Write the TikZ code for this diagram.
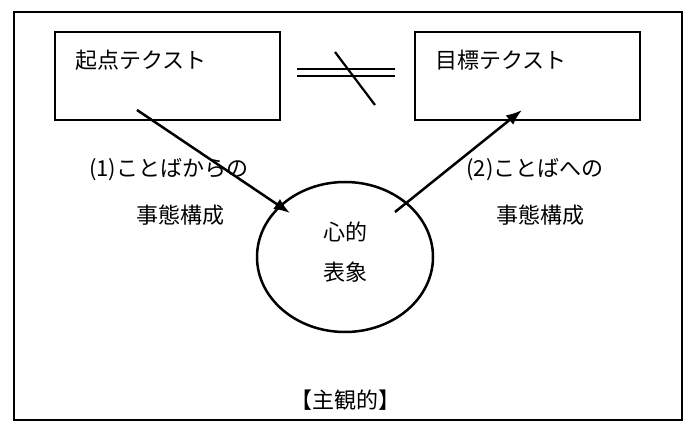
\documentclass[tikz,border=0pt]{standalone}
\usepackage{fontspec}
\usetikzlibrary{shapes.geometric,arrows.meta}
\newfontfamily\cjk{Noto Sans CJK JP}
\tikzset{lbl/.style={font=\cjk\fontsize{22}{24}\selectfont, inner sep=0pt}, bx/.style={draw, line width=2.2pt}, arr/.style={-{Latex[length=16pt,width=12pt]}, line width=2.5pt}}
\begin{document}
\begin{tikzpicture}[x=1pt,y=-1pt]
\useasboundingbox (0,0) rectangle (696,427);
\draw[line width=2pt] (14,12) rectangle (682,420);
\node[bx, minimum width=225pt, minimum height=88pt] (src) at (167.5,76) {};
\node[bx, minimum width=225pt, minimum height=88pt] (tgt) at (527.5,76) {};
\node[lbl, anchor=west] at (75,60) {起点テクスト};
\node[lbl, anchor=west] at (435,60) {目標テクスト};
\draw[line width=2.2pt] (297,69) -- (395,69) (297,76) -- (395,76);
\draw[line width=2.2pt] (335,52) -- (375,105);
\node[draw, line width=2.5pt, ellipse, minimum width=176pt, minimum height=150pt] (rep) at (345,257) {};
\node[lbl] at (345,232) {心的};
\node[lbl] at (345,272) {表象};
\coordinate (a1) at (137,110); \coordinate (a2) at (290,213);
\coordinate (b1) at (395,212); \coordinate (b2) at (522,110);
\draw[arr] (a1) -- (a2);
\draw[arr] (b1) -- (b2);
\node[lbl] at (169,170) {(1)ことばからの};
\node[lbl] at (180,215) {事態構成};
\node[lbl] at (535,170) {(2)ことばへの};
\node[lbl] at (540,215) {事態構成};
\node[lbl] at (345,400) {【主観的】};
\end{tikzpicture}
\end{document}
